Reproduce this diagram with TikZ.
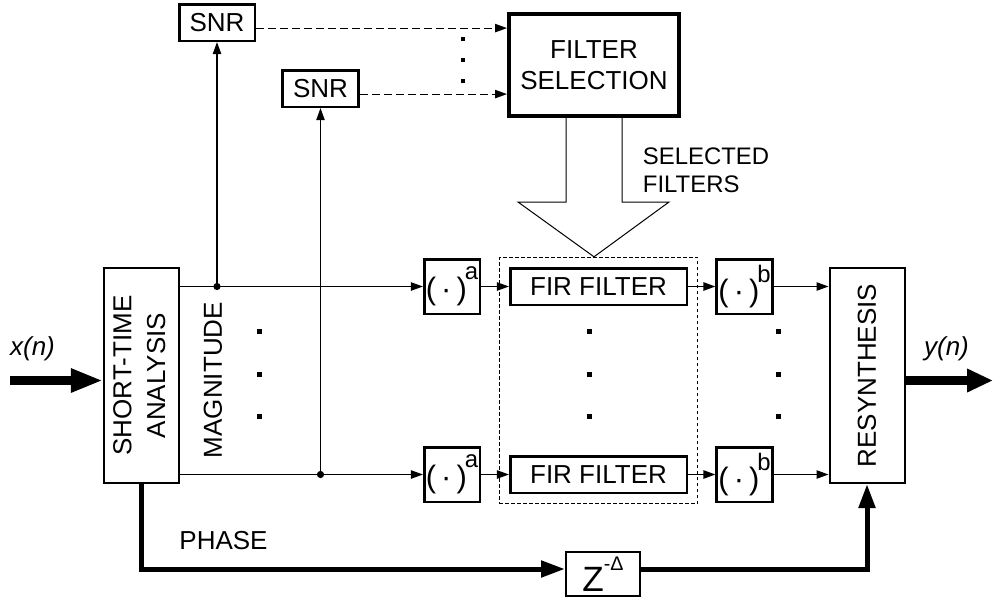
\documentclass[tikz,border=0pt]{standalone}
\usepackage{fontspec}
\setmainfont{Liberation Sans}
\usepackage{graphicx}
\usetikzlibrary{arrows.meta,fit}
\newcommand{\pwr}[1]{{\fontsize{22}{22}\selectfont(\,·\,)}\kern-1.5pt\raisebox{14pt}{\fontsize{17}{17}\selectfont #1}}

\begin{document}
\begin{tikzpicture}[x=0.25mm,y=-0.25mm,font=\fontsize{18.5}{22}\selectfont,
  blk/.style={draw,line width=0.65mm,inner sep=0,align=center},
  snrbox/.style={blk,minimum width=18.9mm,minimum height=9.15mm},
  firbox/.style={blk,minimum width=44.15mm,minimum height=9.15mm},
  powbox/.style={blk,minimum width=13.9mm,minimum height=13.65mm},
  tallbox/.style={draw,line width=0.5mm,inner sep=0,minimum width=18.75mm,minimum height=53.75mm},
  sig/.style={line width=0.3mm,-{Triangle[length=3mm,width=2.1mm]}},
  ctl/.style={sig,dash pattern=on 2mm off 1mm},
  fat/.style={line width=2.25mm,-{Triangle[length=8mm,width=5.5mm]}},
  phs/.style={line width=1.25mm,-{Triangle[length=6mm,width=4mm]}},
  vdot/.style={fill,inner sep=0,minimum size=1.25mm}]
\useasboundingbox (0,0) rectangle (994,600);
% blocks
\node[tallbox] (sta) at (141.5,375.5) {\rotatebox{90}{\fontsize{18.5}{24}\selectfont\begin{tabular}{@{}c@{}}SHORT-TIME\\ANALYSIS\end{tabular}}};
\node[tallbox] (res) at (867,375.5) {\rotatebox{90}{RESYNTHESIS}};
\node[snrbox] (snr1) at (217,22.5) {SNR};
\node[snrbox] (snr2) at (320.5,88.5) {SNR};
\node[draw,line width=1.1mm,minimum width=42.4mm,minimum height=25.4mm,align=center] (fs) at (594,65) {FILTER\\SELECTION};
\node[powbox] (pa1) at (452,286.5) {\pwr{a}};
\node[powbox] (pa2) at (452,474.5) {\pwr{a}};
\node[firbox] (fir1) at (598.5,286.5) {FIR FILTER};
\node[firbox] (fir2) at (598.5,474.5) {FIR FILTER};
\node[powbox] (pb1) at (744.5,286.5) {\pwr{b}};
\node[powbox] (pb2) at (744.5,474.5) {\pwr{b}};
\node[draw,line width=0.25mm,dash pattern=on 0.9mm off 0.6mm,inner sep=2.4mm,fit=(fir1)(fir2)] (bank) {};
\node[draw,line width=0.4mm,inner sep=0,minimum width=18.6mm,minimum height=11.1mm] (z) at (603,574) {\fontsize{25}{25}\selectfont Z\raisebox{15pt}{\fontsize{14}{14}\selectfont -Δ}};
% labels
\node (xn) at (32.5,349) {\itshape x(n)};
\node (yn) at (946.5,349) {\itshape y(n)};
\node[rotate=90] (mag) at (213,380) {MAGNITUDE};
\node (phase) at (223.5,541) {PHASE};
\node[anchor=west,align=left,font=\fontsize{17}{20}\selectfont] (sel) at (638,170) {SELECTED\\FILTERS};
\foreach \i/\y in {1/331,2/374,3/416}{
  \node[vdot] (dm\i) at (259,\y) {};
  \node[vdot] (df\i) at (589,\y) {};
  \node[vdot] (db\i) at (778,\y) {};
}
\foreach \i/\y in {1/39,2/60,3/81}
  \node[vdot,minimum size=0.8mm] (ds\i) at (463,\y) {};
% signal paths
\coordinate (xin) at (10,380.5);
\coordinate (yout) at (993,380.5);
\draw[fat] (xin) -- (xin -| sta.west);
\draw[fat,-{Triangle[length=6.5mm,width=5.5mm]}] (yout -| res.east) -- (yout);
\foreach \r in {1,2}{
  \draw[sig] (sta.east |- pa\r.west) -- (pa\r);
  \draw[sig] (pa\r) -- (fir\r);
  \draw[sig] (fir\r) -- (pb\r);
  \draw[sig] (pb\r) -- (pb\r -| res.west);
}
\coordinate (j1) at (217,286.5);
\coordinate (j2) at (320.5,474.5);
\fill (j1) circle[radius=0.9mm] (j2) circle[radius=0.9mm];
\draw[sig] (j1) -- (snr1);
\draw[sig] (j2) -- (snr2);
\coordinate (c1) at ([yshift=-1.4mm]snr1.east);
\coordinate (c2) at ([yshift=-1.4mm]snr2.east);
\draw[ctl] (c1) -- (c1 -| fs.west);
\draw[ctl] (c2) -- (c2 -| fs.west);
% selected filters arrow
\draw[line width=0.25mm] (566,118) -- (566,202) -- (518,202) -- (bank.north -| fs.south) -- (669,202) -- (622,202) -- (622,118);
% phase path
\coordinate (ph) at (141.5,569);
\draw[phs] (sta.south) -- (ph) -- (ph -| z.west);
\draw[phs] (ph -| z.east) -| (res.south);
\end{tikzpicture}
\end{document}
